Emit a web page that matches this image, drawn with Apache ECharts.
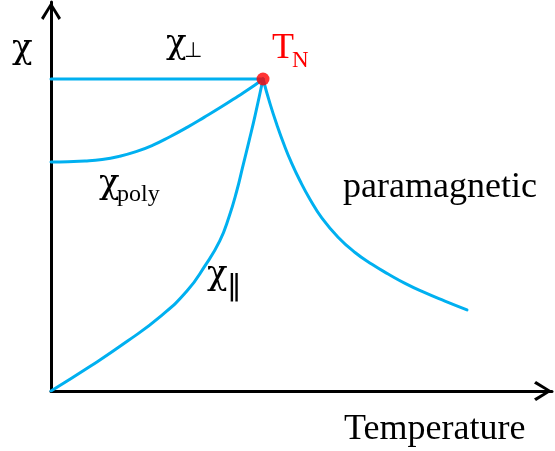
<!DOCTYPE html>
<html>
<head>
<meta charset="utf-8">
<script src="https://cdn.jsdelivr.net/npm/echarts@6/dist/echarts.min.js"></script>
<style>
  html, body { margin: 0; padding: 0; background: #ffffff; }
  #chart { width: 555px; height: 451px; }
</style>
</head>
<body>
<div id="chart"></div>
<script>
// Reduced temperature T/T_N and reduced susceptibility chi/chi(T_N)
const perpT = [0, 1];
const perpChi = [1, 1];

const polyT = [0, 0.080, 0.160, 0.241, 0.321, 0.401, 0.481, 0.561, 0.642, 0.722, 0.802, 0.882, 0.962, 1.0];
const polyChi = [0.734, 0.735, 0.737, 0.742, 0.752, 0.767, 0.788, 0.815, 0.845, 0.877, 0.910, 0.945, 0.981, 1.0];

const parT = [0, 0.187, 0.361, 0.518, 0.642, 0.726, 0.796, 0.841, 0.876, 0.905, 0.934, 0.962, 1.0];
const parChi = [0, 0.080, 0.160, 0.240, 0.321, 0.401, 0.481, 0.561, 0.641, 0.721, 0.801, 0.881, 1.0];

const paraT = [1.0, 1.033, 1.066, 1.099, 1.132, 1.175, 1.222, 1.278, 1.354, 1.434, 1.514, 1.590, 1.670, 1.750, 1.858, 1.962];
const paraChi = [1.0, 0.921, 0.852, 0.790, 0.735, 0.673, 0.614, 0.554, 0.493, 0.444, 0.406, 0.375, 0.345, 0.319, 0.288, 0.260];

const neelT = [1];
const neelChi = [1];

const zip = (xs, ys) => xs.map((x, i) => [x, ys[i]]);

const BLUE = '#00B0F0';
const SERIF = "'Liberation Serif', 'Times New Roman', serif";
const GREEK = "'DejaVu Serif', 'Liberation Serif', serif";
const SANS = "'DejaVu Sans', sans-serif";
// open chevron arrow head, tip pointing up
const ARROW = 'path://M10,0 L20,16 L17.6,18 L10,5.2 L2.4,18 L0,16 Z';

const axisLine = {
  show: true,
  lineStyle: { color: '#000', width: 3 },
  symbol: ['none', ARROW],
  symbolSize: [20, 18],
  symbolOffset: [0, -9]
};

const curve = (data, smooth) => ({
  type: 'line',
  data: data,
  smooth: smooth,
  showSymbol: false,
  symbol: 'none',
  lineStyle: { color: BLUE, width: 3, join: 'round', cap: 'round' },
  z: 3,
  silent: true
});

const chart = echarts.init(document.getElementById('chart'), null, { renderer: 'canvas' });

// text placed by the top-left corner of its line box
const txt = (x, y, text, size, color, family) => ({
  type: 'text',
  x: x, y: y,
  style: {
    text: text,
    fontSize: size,
    fontFamily: family || SERIF,
    fill: color || '#000',
    verticalAlign: 'top',
    align: 'left'
  },
  z: 10
});

chart.setOption({
  animation: false,
  backgroundColor: '#ffffff',
  grid: { left: 51, right: 3, top: 2, bottom: 60 },
  xAxis: {
    type: 'value', min: 0, max: 2.363,
    axisLine: axisLine,
    axisTick: { show: false }, axisLabel: { show: false }, splitLine: { show: false }
  },
  yAxis: {
    type: 'value', min: 0, max: 1.2468,
    axisLine: axisLine,
    axisTick: { show: false }, axisLabel: { show: false }, splitLine: { show: false }
  },
  series: [
    curve(zip(perpT, perpChi), false),
    curve(zip(polyT, polyChi), 0.5),
    curve(zip(parT, parChi), 0.5),
    curve(zip(paraT, paraChi), 0.5),
    {
      type: 'scatter',
      data: zip(neelT, neelChi),
      symbol: 'circle',
      symbolSize: 13,
      itemStyle: { color: '#FF0000' },
      z: 5,
      silent: true
    }
  ],
  graphic: [
    txt(12, 32, 'χ', 34, '#000', GREEK),
    txt(166, 27, 'χ', 34, '#000', GREEK),
    txt(184, 41, '⊥', 21, '#000', SANS),
    txt(272, 31, 'T', 36, '#FF0000'),
    txt(292, 49, 'N', 23, '#FF0000'),
    txt(99, 167, 'χ', 34, '#000', GREEK),
    txt(117, 183, 'poly', 24),
    txt(207, 258, 'χ', 34, '#000', GREEK),
    txt(227, 273, '‖', 29, '#000', SANS),
    txt(343, 170, 'paramagnetic', 36),
    txt(344, 412, 'Temperature', 36)
  ]
});
</script>
</body>
</html>
